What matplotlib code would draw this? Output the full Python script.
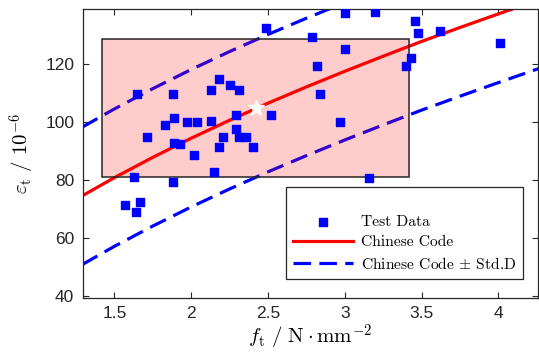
import numpy as np
import matplotlib
matplotlib.use('Agg')
import matplotlib.pyplot as plt
from matplotlib.patches import Rectangle

plt.rcParams['mathtext.fontset'] = 'cm'
plt.rcParams['font.family'] = ['Liberation Sans', 'DejaVu Sans']

# test data (f_t in N/mm^2, eps_t in 1e-6)
ft_test = [2.49, 3.00, 3.20, 3.46, 3.48, 3.62, 2.79, 3.00, 4.01, 2.82,
           3.43, 3.40, 2.84, 1.65, 1.88, 2.18, 2.13, 2.25, 2.31, 1.89,
           1.83, 1.97, 2.04, 2.13, 2.29, 2.52, 2.97, 1.71, 1.89, 1.93,
           2.21, 2.29, 2.31, 2.36, 2.18, 2.40, 2.02, 2.15, 1.63, 1.88,
           3.16, 1.57, 1.67, 1.64]
eps_test = [132.4, 137.6, 138.1, 134.9, 130.9, 131.4, 129.4, 125.4, 127.4, 119.3,
            122.3, 119.3, 109.7, 109.7, 109.7, 114.8, 111.1, 112.8, 111.1, 101.5,
            99.0, 100.0, 100.0, 100.4, 102.5, 102.5, 100.0, 94.8, 92.8, 92.4,
            94.8, 97.6, 94.8, 94.8, 91.4, 91.4, 88.8, 82.8, 81.2, 79.3,
            80.8, 71.4, 72.5, 69.1]

# code curve and +/- std band
ft_code = [1.29, 1.5, 1.75, 2.0, 2.25, 2.5, 2.75, 3.0, 3.25, 3.5, 3.75, 4.0, 4.26]
eps_code = [74.6, 80.9, 87.9, 94.5, 100.7, 106.6, 112.2, 117.6, 122.8, 127.9, 132.7, 137.4, 142.2]
eps_upper = [98.3, 104.6, 111.6, 118.2, 124.4, 130.3, 135.9, 141.3, 146.5, 151.6, 156.4, 161.1, 165.9]
eps_lower = [50.9, 57.2, 64.2, 70.8, 77.0, 82.9, 88.5, 93.9, 99.1, 104.2, 109.0, 113.7, 118.5]

# mean point and mean +/- std box
ft_mean, eps_mean = 2.42, 104.9
ft_std, eps_std = 1.0, 23.7

fig = plt.figure(figsize=(5.39, 3.59), dpi=100)
ax = fig.add_axes([0.1534, 0.1708, 0.8453, 0.8042])

ax.plot(ft_code, eps_code, color='red', lw=2.3, zorder=2, label='Chinese Code')
ax.plot(ft_code, eps_upper, color='blue', lw=2.3, dashes=(5.5, 2.6), zorder=2,
        label=r'Chinese Code $\pm$ Std.D')
ax.plot(ft_code, eps_lower, color='blue', lw=2.3, dashes=(5.5, 2.6), zorder=2)

rect = Rectangle((ft_mean - ft_std, eps_mean - eps_std), 2 * ft_std, 2 * eps_std,
                 facecolor=(1, 0, 0, 0.2), edgecolor='#262626', lw=1.1, zorder=3)
ax.add_patch(rect)

ax.scatter(ft_test, eps_test, marker='s', s=30, color='blue', zorder=4, label='Test Data')
ax.plot([ft_mean], [eps_mean], marker='*', color='white', ms=12, mec='white', zorder=5)

ax.set_xlim(1.294, 4.26)
ax.set_ylim(39.5, 139.1)
ax.set_xticks([1.5, 2, 2.5, 3, 3.5, 4])
ax.set_xticklabels(['1.5', '2', '2.5', '3', '3.5', '4'])
ax.set_yticks([40, 60, 80, 100, 120])

ax.tick_params(direction='in', top=True, right=True, length=4, width=0.8,
               labelsize=12.5, labelcolor='#262626', color='#262626', pad=6)
for s in ax.spines.values():
    s.set_color('#262626')
    s.set_linewidth(0.9)

ax.set_xlabel(r'$f_{\rm t}\ /\ {\rm N}\cdot{\rm mm}^{-2}$', fontsize=15, labelpad=1)
ax.set_ylabel(r'$\varepsilon_{\rm t}\ /\ 10^{-6}$', fontsize=15, labelpad=6)

h, l = ax.get_legend_handles_labels()
order = [2, 0, 1]
leg = ax.legend([h[i] for i in order], [l[i] for i in order], loc='lower right',
                bbox_to_anchor=(0.967, 0.065), borderaxespad=0,
                prop={'family': 'cmr10', 'size': 11.2},
                fancybox=False, edgecolor='#262626', framealpha=1,
                handlelength=3.85, handletextpad=0.5, labelspacing=0.42,
                title=' ', title_fontsize=12, borderpad=0.45, scatterpoints=1)
leg.get_frame().set_linewidth(0.9)

fig.savefig('out.png', dpi=100)
